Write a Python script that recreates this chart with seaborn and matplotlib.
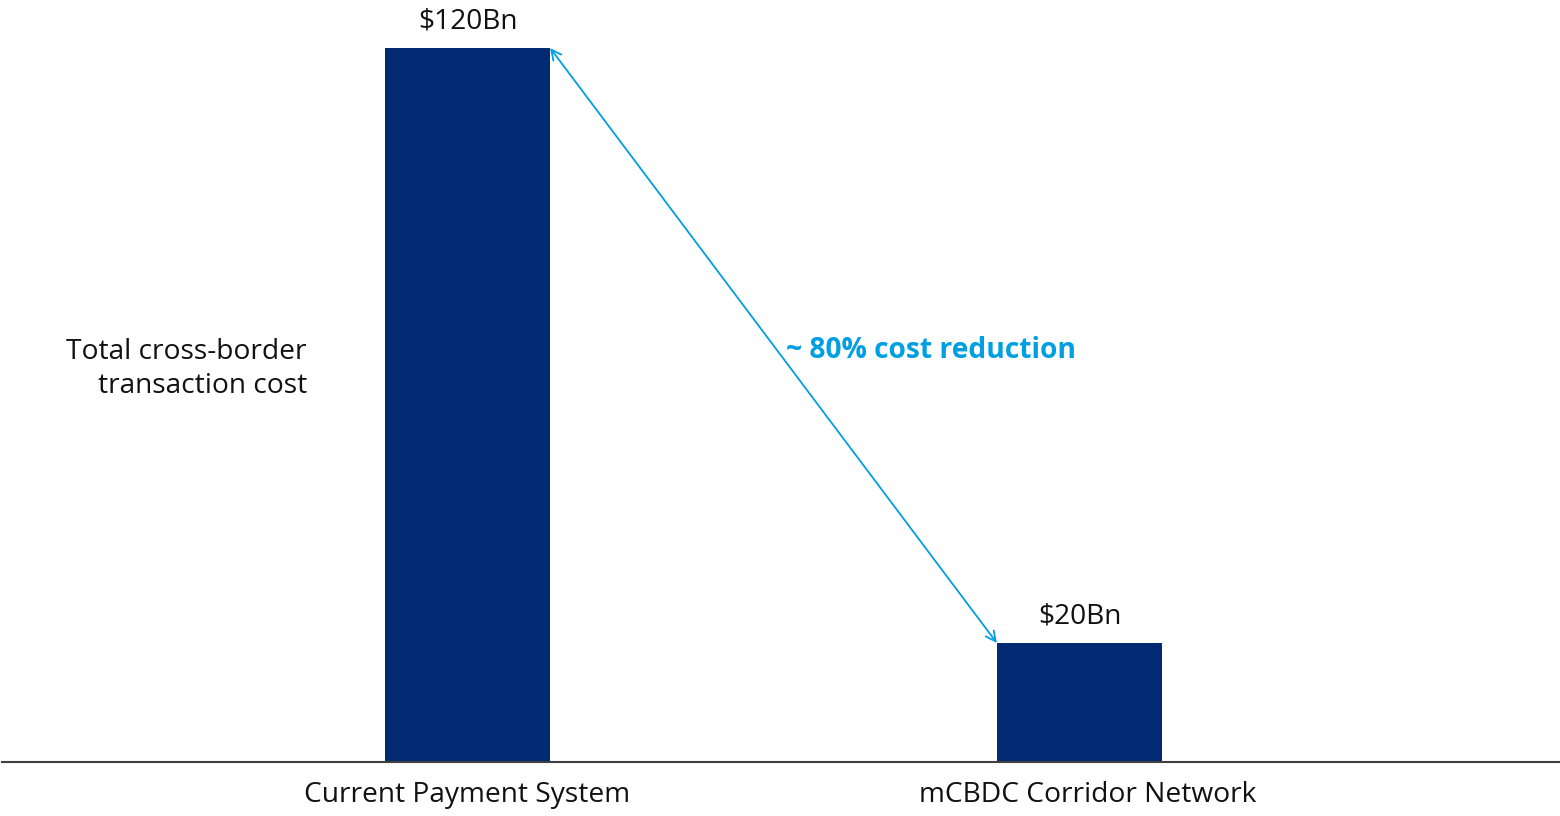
import matplotlib
matplotlib.use("Agg")
import matplotlib.pyplot as plt
import matplotlib.transforms as mtransforms
import seaborn as sns
import pandas as pd

categories = ["Current Payment System", "mCBDC Corridor Network"]
values = [120, 20]
value_labels = ["$120Bn", "$20Bn"]
ylabel_text = "Total cross-border\ntransaction cost"
annotation_text = "~ 80% cost reduction"

sns.set_theme(style="white")
plt.rcParams['font.family'] = ['Open Sans', 'DejaVu Sans']

bar_color = "#002B73"
arrow_color = "#009FE3"
bar_width = 0.27
fs = 20.25

df = pd.DataFrame({"category": categories, "value": values})

fig = plt.figure(figsize=(15.6, 8.16), dpi=100)
ax = fig.add_axes([0, 54/816, 1, 762/816])

sns.barplot(data=df, x="category", y="value", color=bar_color, width=bar_width,
            saturation=1, linewidth=0, ax=ax)

ax.set_xlim(-467.5/612, 1 + 480.5/612)
ax.set_ylim(0, 762/5.95)

for s in ["top", "right", "left"]:
    ax.spines[s].set_visible(False)
ax.spines["bottom"].set_color("#404040")
ax.spines["bottom"].set_linewidth(1.5)
ax.spines["bottom"].set_bounds(-465.5/612, 1 + 480.5/612)

ax.set_yticks([])
ax.set_xlabel("")
ax.set_ylabel("")
ax.tick_params(axis="x", length=0, pad=14, labelsize=fs, labelcolor="#111111")
# second category label sits slightly right of its bar centre in the reference
lbl = ax.get_xticklabels()[1]
lbl.set_transform(lbl.get_transform() + mtransforms.ScaledTranslation(8/100, 0, fig.dpi_scale_trans))

for i, (v, lab) in enumerate(zip(values, value_labels)):
    ax.annotate(lab, (i, v), xytext=(0, 9), textcoords="offset points",
                ha="center", va="bottom", fontsize=fs, color="#111111")

# double-headed arrow between bar tops
ax.annotate("", xy=(1 - bar_width/2, values[1]), xytext=(bar_width/2, values[0]),
            arrowprops=dict(arrowstyle="<->", color=arrow_color, lw=1.3,
                            shrinkA=0, shrinkB=0, mutation_scale=18))

ax.text(786/1560, (816-351)/816, annotation_text, transform=fig.transFigure,
        ha="left", va="center", fontsize=fs, fontweight="bold", color=arrow_color)

fig.text(307/1560, (816-369)/816, ylabel_text, ha="right", va="center",
         fontsize=fs, color="#111111", linespacing=1.33, multialignment="right")

fig.savefig("out.png", dpi=100)
